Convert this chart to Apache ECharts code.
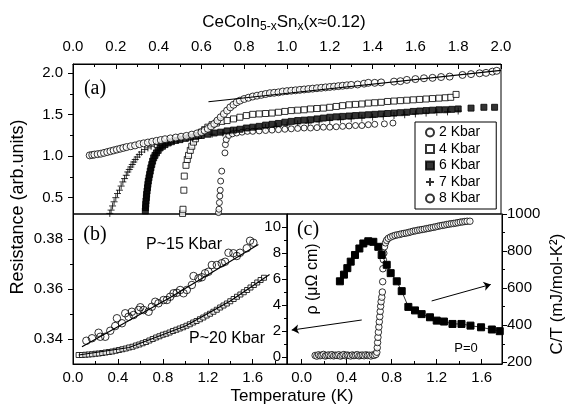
<!DOCTYPE html>
<html>
<head>
<meta charset="utf-8">
<script src="https://cdn.jsdelivr.net/npm/echarts@6/dist/echarts.min.js"></script>
<style>
  html, body { margin: 0; padding: 0; background: #fff; }
  #chart { width: 568px; height: 408px; }
</style>
</head>
<body>
<div id="chart"></div>
<script>
// ---- panel (a): resistance vs temperature, CeCoIn5-xSnx at several pressures ----
var r2kbar = [[0.680,0.32],[0.682,0.36],[0.684,0.44],[0.686,0.52],[0.688,0.59],[0.690,0.70],[0.695,0.82],
  [0.710,1.04],[0.712,1.14],[0.716,1.20],[0.728,1.25],[0.745,1.27],[0.765,1.28],[0.790,1.29],[0.815,1.30],
  [0.840,1.30],[0.870,1.305],[0.900,1.31],[0.930,1.315],[0.960,1.32],[0.990,1.325],[1.020,1.33],[1.050,1.335],
  [1.080,1.34],[1.110,1.34],[1.140,1.345],[1.170,1.35],[1.200,1.35],[1.230,1.355],[1.260,1.36],[1.290,1.365],
  [1.320,1.37],[1.350,1.37],[1.380,1.38],[1.410,1.385],[1.455,1.39],[1.495,1.40]];

var r4kbar = [[0.512,0.31],[0.514,0.36],[0.518,0.59],[0.520,0.76],[0.528,0.89],[0.534,0.96],[0.540,1.01],
  [0.548,1.07],[0.555,1.12],[0.563,1.17],[0.572,1.21],[0.585,1.25],[0.600,1.29],[0.615,1.32],[0.630,1.35],
  [0.650,1.38],[0.670,1.40],[0.695,1.42],[0.720,1.43],[0.750,1.45],[0.780,1.47],[0.810,1.49],[0.840,1.505],
  [0.870,1.51],[0.900,1.515],[0.930,1.52],[0.960,1.53],[0.990,1.54],[1.020,1.55],[1.050,1.555],[1.080,1.56],
  [1.110,1.57],[1.140,1.575],[1.170,1.58],[1.200,1.59],[1.230,1.60],[1.260,1.61],[1.290,1.62],[1.320,1.625],
  [1.350,1.63],[1.380,1.64],[1.410,1.645],[1.440,1.65],[1.470,1.66],[1.500,1.665],[1.530,1.67],[1.560,1.675],
  [1.590,1.68],[1.620,1.685],[1.650,1.69],[1.680,1.695],[1.710,1.70],[1.740,1.705],[1.765,1.71],[1.790,1.745]];

var r6kbar = [[0.336,0.30],[0.338,0.34],[0.339,0.38],[0.340,0.42],[0.341,0.46],[0.343,0.50],[0.344,0.54],
  [0.346,0.58],[0.348,0.62],[0.350,0.66],[0.352,0.70],[0.355,0.74],[0.358,0.78],[0.361,0.82],[0.364,0.86],
  [0.368,0.90],[0.372,0.94],[0.377,0.98],[0.383,1.01],[0.390,1.04],[0.398,1.07],[0.407,1.10],[0.418,1.12],
  [0.430,1.14],[0.445,1.16],[0.460,1.175],[0.480,1.19],[0.500,1.20],[0.525,1.215],[0.550,1.23],[0.575,1.24],
  [0.600,1.25],[0.630,1.265],[0.660,1.28],[0.690,1.29],[0.720,1.305],[0.750,1.315],[0.780,1.325],[0.810,1.34],
  [0.840,1.35],[0.870,1.36],[0.900,1.375],[0.930,1.385],[0.960,1.395],[0.990,1.41],[1.020,1.42],[1.050,1.43],
  [1.080,1.435],[1.110,1.44],[1.140,1.45],[1.170,1.46],[1.200,1.47],[1.230,1.475],[1.260,1.48],[1.290,1.485],
  [1.320,1.49],[1.350,1.495],[1.380,1.50],[1.410,1.505],[1.440,1.51],[1.470,1.515],[1.500,1.52],[1.530,1.525],
  [1.560,1.53],[1.590,1.54],[1.620,1.545],[1.650,1.55],[1.680,1.555],[1.710,1.56],[1.740,1.56],[1.770,1.565],
  [1.800,1.57],[1.860,1.58],[1.920,1.59],[1.970,1.59]];

var r7kbar = [[0.172,0.31],[0.178,0.35],[0.185,0.40],[0.192,0.45],[0.200,0.50],[0.208,0.55],[0.217,0.59],
  [0.225,0.64],[0.233,0.69],[0.241,0.73],[0.249,0.77],[0.256,0.81],[0.263,0.84],[0.270,0.87],[0.277,0.90],
  [0.284,0.93],[0.291,0.96],[0.300,0.99],[0.310,1.02],[0.320,1.05],[0.335,1.08],[0.350,1.10],[0.365,1.12],
  [0.380,1.14],[0.400,1.16],[0.420,1.175],[0.445,1.19],[0.470,1.20],[0.500,1.215],[0.530,1.225],[0.560,1.235],
  [0.600,1.25],[0.650,1.265],[0.700,1.28],[0.750,1.30],[0.800,1.315],[0.850,1.33],[0.900,1.345],[0.950,1.36],
  [1.000,1.375],[1.050,1.39],[1.100,1.40],[1.150,1.415],[1.200,1.43],[1.250,1.44],[1.300,1.45],[1.350,1.46],
  [1.400,1.47],[1.450,1.48],[1.500,1.49],[1.550,1.50],[1.600,1.51],[1.650,1.52],[1.700,1.53],[1.750,1.535],
  [1.800,1.545]];

var r8kbar = [[0.078,1.01],[0.090,1.015],[0.100,1.02],[0.115,1.025],[0.130,1.03],[0.145,1.04],[0.160,1.05],
  [0.175,1.06],[0.190,1.07],[0.205,1.08],[0.220,1.09],[0.235,1.10],[0.250,1.11],[0.270,1.12],[0.290,1.13],
  [0.310,1.145],[0.330,1.155],[0.350,1.165],[0.370,1.175],[0.390,1.185],[0.410,1.195],[0.430,1.205],[0.455,1.215],
  [0.480,1.225],[0.505,1.235],[0.530,1.245],[0.555,1.26],[0.580,1.275],[0.600,1.29],[0.615,1.31],[0.630,1.33],
  [0.645,1.36],[0.660,1.39],[0.675,1.43],[0.690,1.47],[0.705,1.51],[0.720,1.55],[0.735,1.59],[0.750,1.62],
  [0.765,1.65],[0.780,1.67],[0.800,1.69],[0.820,1.705],[0.840,1.72],[0.860,1.73],[0.880,1.74],[0.900,1.75],
  [0.920,1.76],[0.940,1.765],[0.960,1.77],[0.980,1.78],[1.000,1.785],[1.020,1.79],[1.040,1.795],[1.060,1.80],
  [1.080,1.805],[1.100,1.81],[1.120,1.815],[1.140,1.82],[1.160,1.825],[1.180,1.83],[1.200,1.835],[1.220,1.84],
  [1.240,1.845],[1.260,1.85],[1.280,1.855],[1.300,1.86],[1.330,1.865],[1.360,1.875],[1.380,1.885],[1.410,1.885],
  [1.440,1.89],[1.500,1.90],[1.530,1.905],[1.560,1.92],[1.600,1.93],[1.640,1.94],[1.680,1.945],[1.720,1.955],
  [1.760,1.96],[1.820,1.98],[1.860,1.99],[1.900,2.00],[1.930,2.005],[1.960,2.02],[1.980,2.03]];

var fit8kbar = [[0.633,1.657],[2.0,2.035]];

// ---- panel (b): high pressure, normal state ----
var r15kbar = [[0.119,0.3393],[0.169,0.3403],[0.228,0.3425],[0.243,0.3409],[0.287,0.3409],[0.332,0.3433],
  [0.376,0.3452],[0.391,0.3483],[0.436,0.3463],[0.465,0.3503],[0.495,0.3489],[0.524,0.3509],[0.539,0.3496],
  [0.584,0.3516],[0.599,0.3527],[0.628,0.3516],[0.673,0.3509],[0.702,0.3529],[0.732,0.3549],[0.761,0.3543],
  [0.806,0.3556],[0.836,0.3556],[0.865,0.3569],[0.895,0.3583],[0.924,0.3585],[0.954,0.3596],[0.984,0.3583],
  [1.013,0.3596],[1.058,0.3616],[1.073,0.3652],[1.117,0.3643],[1.147,0.3647],[1.176,0.3663],[1.206,0.3669],
  [1.236,0.3696],[1.280,0.3696],[1.324,0.3703],[1.354,0.3709],[1.384,0.3745],[1.428,0.3743],[1.458,0.3732],
  [1.487,0.3745],[1.547,0.3763],[1.576,0.3793],[1.606,0.3785]];

var r20kbar = [[0.05,0.3336],[0.08,0.3336],[0.11,0.3337],[0.14,0.3338],[0.17,0.3339],[0.20,0.3341],[0.23,0.3342],
  [0.26,0.3344],[0.29,0.3346],[0.32,0.3348],[0.35,0.3350],[0.38,0.3353],[0.41,0.3356],[0.44,0.3359],[0.47,0.3362],
  [0.50,0.3366],[0.53,0.3369],[0.56,0.3374],[0.59,0.3378],[0.62,0.3383],[0.65,0.3388],[0.68,0.3394],[0.71,0.3400],
  [0.74,0.3406],[0.77,0.3411],[0.80,0.3417],[0.83,0.3421],[0.86,0.3426],[0.89,0.3432],[0.92,0.3437],[0.95,0.3442],
  [0.98,0.3447],[1.01,0.3453],[1.04,0.3459],[1.07,0.3466],[1.10,0.3472],[1.13,0.3479],[1.16,0.3486],[1.19,0.3494],
  [1.22,0.3501],[1.25,0.3509],[1.28,0.3517],[1.31,0.3526],[1.34,0.3534],[1.37,0.3542],[1.40,0.3551],[1.43,0.3560],
  [1.46,0.3569],[1.49,0.3578],[1.52,0.3587],[1.55,0.3596],[1.58,0.3606],[1.61,0.3616],[1.64,0.3626],[1.67,0.3636],
  [1.70,0.3645]];

var fit15kbar = [[0.08,0.3369],[0.85,0.3562],[1.65,0.3778]];
var fit20kbar = [[0.05,0.3336],[0.5,0.3366],[1.0,0.3452],[1.4,0.3552],[1.75,0.3658]];

// ---- panel (c): P=0, rho and C/T ----
var rhoP0 = [[0.120,0.10],[0.135,0.05],[0.150,0.15],[0.165,0.08],[0.180,0.12],[0.195,0.18],[0.210,0.06],
  [0.225,0.10],[0.240,0.14],[0.255,0.09],[0.270,0.16],[0.285,0.07],[0.300,0.12],[0.315,0.10],[0.330,0.15],
  [0.345,0.05],[0.360,0.11],[0.375,0.17],[0.390,0.08],[0.405,0.13],[0.420,0.10],[0.435,0.06],[0.450,0.14],
  [0.465,0.09],[0.480,0.12],[0.495,0.16],[0.510,0.07],[0.525,0.11],[0.540,0.13],[0.555,0.08],[0.570,0.15],
  [0.585,0.10],[0.600,0.12],[0.615,0.06],[0.630,0.14],[0.645,0.11],[0.660,0.18],
  [0.668,0.35],[0.672,0.70],[0.675,1.10],[0.678,1.50],[0.682,1.90],[0.686,2.30],[0.690,2.70],[0.694,3.10],
  [0.698,3.50],[0.702,3.90],[0.706,4.25],[0.712,4.60],[0.717,5.00],[0.720,5.80],[0.722,6.80],[0.726,7.50],
  [0.730,8.00],[0.736,8.50],[0.745,8.80],[0.755,9.00],[0.770,9.15],[0.790,9.25],[0.810,9.32],[0.830,9.38],
  [0.850,9.42],[0.870,9.45],[0.890,9.50],[0.910,9.53],[0.930,9.56],[0.950,9.60],[0.970,9.65],[0.990,9.70],
  [1.010,9.73],[1.030,9.77],[1.050,9.80],[1.070,9.83],[1.090,9.86],[1.110,9.90],[1.130,9.93],[1.150,9.97],
  [1.170,10.00],[1.190,10.04],[1.210,10.08],[1.230,10.12],[1.250,10.15],[1.270,10.18],[1.290,10.22],
  [1.310,10.25],[1.330,10.28],[1.350,10.30],[1.370,10.33],[1.390,10.36],[1.410,10.40],[1.430,10.42],
  [1.450,10.45],[1.470,10.47],[1.495,10.47]];

var ctP0 = [[0.340,637],[0.376,673],[0.406,708],[0.436,743],[0.474,779],[0.513,814],[0.548,841],[0.592,853],
  [0.637,850],[0.681,823],[0.711,779],[0.756,726],[0.791,681],[0.845,637],[0.889,584],[0.948,499],[1.007,480],
  [1.066,460],[1.140,443],[1.200,425],[1.264,420],[1.340,407],[1.420,407],[1.500,398],[1.594,389],[1.690,377],
  [1.760,368]];

var arrowRho = [[0.534,2.84],[-0.088,2.06]];
var arrowCT = [[1.155,531],[1.68,620]];

// ---- tick values ----
var aTempTicks = [0,0.2,0.4,0.6,0.8,1.0,1.2,1.4,1.6,1.8,2.0];
var aTempMinor = [0.1,0.3,0.5,0.7,0.9,1.1,1.3,1.5,1.7,1.9];
var aResTicks = [0.5,1.0,1.5,2.0];
var aResMinor = [0.75,1.25,1.75];
var bTempTicks = [0,0.4,0.8,1.2,1.6];
var bTempMinor = [0.2,0.6,1.0,1.4,1.8];
var bResTicks = [0.34,0.36,0.38];
var bResMinor = [0.35,0.37];
var cTempTicks = [0,0.4,0.8,1.2,1.6];
var cTempMinor = [0.2,0.6,1.0,1.4];
var cRhoTicks = [0,2,4,6,8,10];
var cRhoMinor = [1,3,5,7,9];
var cCTTicks = [200,400,600,800,1000];
var cCTMinor = [300,500,700,900];

var legendNames = ['2 Kbar','4 Kbar','6 Kbar','7 Kbar','8 Kbar'];

var SANS = '"Liberation Sans", Arial, sans-serif';
var SERIF = '"Liberation Serif", "Times New Roman", serif';
var PLUS = 'path://M5,0L5,10M0,5L10,5';

function axisPair(base, majors, minors, fmt, inside, margin) {
  var major = Object.assign({
    type: 'value',
    axisLine: { show: true, onZero: false, lineStyle: { color: '#000', width: 1 } },
    axisTick: { show: true, inside: inside, length: 5, customValues: majors, lineStyle: { color: '#000', width: 1 } },
    axisLabel: { show: true, customValues: majors, formatter: fmt, color: '#000', fontSize: 15, fontFamily: SANS, margin: margin },
    splitLine: { show: false }
  }, base);
  var minor = Object.assign({
    type: 'value',
    axisLine: { show: false, onZero: false },
    axisTick: { show: true, inside: inside, length: 3, customValues: minors, lineStyle: { color: '#000', width: 1 } },
    axisLabel: { show: false },
    splitLine: { show: false }
  }, base);
  return [major, minor];
}

function f1(v) { return v.toFixed(1); }
function f2(v) { return v.toFixed(2); }
function f0(v) { return String(Math.round(v)); }

var xa = axisPair({ gridIndex: 0, position: 'top', min: 0, max: 2 }, aTempTicks, aTempMinor, f1, true, 10);
var xb = axisPair({ gridIndex: 1, position: 'bottom', min: 0, max: 1.905 }, bTempTicks, bTempMinor, f1, true, 6);
var xc = axisPair({ gridIndex: 2, position: 'bottom', min: -0.13, max: 1.78 }, cTempTicks, cTempMinor, f1, true, 6);
var ya = axisPair({ gridIndex: 0, position: 'left', min: 0.303, max: 2.112 }, aResTicks, aResMinor, f1, false, 10);
var yb = axisPair({ gridIndex: 1, position: 'left', min: 0.33, max: 0.39 }, bResTicks, bResMinor, f2, false, 10);
var yc = axisPair({ gridIndex: 2, position: 'left', min: -0.56, max: 11.03 }, cRhoTicks, cRhoMinor, f0, false, 6);
var yc2 = axisPair({ gridIndex: 2, position: 'right', min: 191, max: 1000 }, cCTTicks, cCTMinor, f0, false, 5);

function scatter(name, data, xi, yi, symbol, size, fill) {
  return {
    name: name, type: 'scatter', xAxisIndex: xi, yAxisIndex: yi, data: data,
    symbol: symbol, symbolSize: size,
    itemStyle: { color: fill, borderColor: '#000', borderWidth: 1 },
    emphasis: { disabled: true }, silent: true
  };
}

function fitLine(data, xi, yi) {
  return {
    type: 'line', xAxisIndex: xi, yAxisIndex: yi, data: data, showSymbol: false, symbol: 'none',
    lineStyle: { color: '#000', width: 1.2 }, emphasis: { disabled: true }, silent: true, z: 5
  };
}

var chart = echarts.init(document.getElementById('chart'), null, { renderer: 'canvas' });
chart.setOption({
  animation: false,
  backgroundColor: '#fff',
  title: {
    left: 'center', top: 6,
    text: '{m|CeCoIn}{s|5-x}{m|Sn}{s|x}{m|(x\u22480.12)}',
    textStyle: {
      fontWeight: 'normal',
      rich: {
        m: { fontSize: 17, fontFamily: SANS, fontWeight: 'normal', color: '#000' },
        s: { fontSize: 12, fontFamily: SANS, fontWeight: 'normal', color: '#000', padding: [10, 0, 0, 0] }
      }
    }
  },
  legend: {
    data: legendNames,
    orient: 'vertical', left: 415, top: 122,
    itemWidth: 8, itemHeight: 8, itemGap: 1.5,
    padding: [3, 16, 3, 10],
    borderColor: '#000', borderWidth: 1, backgroundColor: '#fff',
    textStyle: { fontSize: 14, fontFamily: SANS, color: '#000', lineHeight: 15 },
    selectedMode: false
  },
  grid: [
    { left: 73, top: 64, width: 428, height: 150, show: true, borderColor: '#000', borderWidth: 1 },
    { left: 73, top: 214, width: 214, height: 150, show: true, borderColor: '#000', borderWidth: 1 },
    { left: 287, top: 214, width: 215, height: 150, show: true, borderColor: '#000', borderWidth: 1 }
  ],
  xAxis: [xa[0], xa[1], xb[0], xb[1], xc[0], xc[1]],
  yAxis: [ya[0], ya[1], yb[0], yb[1], yc[0], yc[1], yc2[0], yc2[1]],
  series: [
    scatter('7 Kbar', r7kbar, 0, 0, PLUS, 7, 'rgba(0,0,0,0)'),
    scatter('2 Kbar', r2kbar, 0, 0, 'circle', 6, '#fff'),
    scatter('4 Kbar', r4kbar, 0, 0, 'rect', 6, '#fff'),
    scatter('6 Kbar', r6kbar, 0, 0, 'rect', 6, '#000'),
    scatter('8 Kbar', r8kbar, 0, 0, 'circle', 7, '#fff'),
    fitLine(fit8kbar, 0, 0),
    scatter('P~15 Kbar', r15kbar, 2, 2, 'circle', 7.5, 'rgba(255,255,255,0)'),
    scatter('P~20 Kbar', r20kbar, 2, 2, 'rect', 5, '#fff'),
    fitLine(fit15kbar, 2, 2),
    fitLine(fit20kbar, 2, 2),
    {
      name: 'C/T', type: 'line', xAxisIndex: 4, yAxisIndex: 6, data: ctP0,
      symbol: 'rect', symbolSize: 7, showAllSymbol: true,
      lineStyle: { color: '#000', width: 0.8 },
      itemStyle: { color: '#000', borderColor: '#000' },
      emphasis: { disabled: true }, silent: true,
      markLine: {
        silent: true, symbol: ['none', 'arrow'], symbolSize: 7,
        label: { show: false },
        lineStyle: { color: '#000', width: 1, type: 'solid' },
        data: [[{ coord: arrowCT[0] }, { coord: arrowCT[1] }]]
      }
    },
    Object.assign(scatter('rho', rhoP0, 4, 4, 'circle', 6.5, '#fff'), {
      markLine: {
        silent: true, symbol: ['none', 'arrow'], symbolSize: 7,
        label: { show: false },
        lineStyle: { color: '#000', width: 1, type: 'solid' },
        data: [[{ coord: arrowRho[0] }, { coord: arrowRho[1] }]]
      }
    })
  ],
  graphic: [
    { type: 'text', x: 18, y: 207, rotation: Math.PI / 2,
      style: { text: 'Resistance (arb.units)', font: '18px ' + SANS, fill: '#000', align: 'center', verticalAlign: 'middle' } },
    { type: 'text', x: 292, y: 396,
      style: { text: 'Temperature (K)', font: '17px ' + SANS, fill: '#000', align: 'center', verticalAlign: 'middle' } },
    { type: 'text', x: 557, y: 294, rotation: Math.PI / 2,
      style: { text: 'C/T (mJ/mol-K\u00b2)', font: '17px ' + SANS, fill: '#000', align: 'center', verticalAlign: 'middle' } },
    { type: 'text', x: 313, y: 279, rotation: Math.PI / 2,
      style: { text: '\u03c1 (\u03bc\u03a9 cm)', font: '16px ' + SANS, fill: '#000', align: 'center', verticalAlign: 'middle' } },
    { type: 'text', x: 95, y: 89,
      style: { text: '(a)', font: '20px ' + SERIF, fill: '#000', align: 'center', verticalAlign: 'middle' } },
    { type: 'text', x: 95, y: 235,
      style: { text: '(b)', font: '20px ' + SERIF, fill: '#000', align: 'center', verticalAlign: 'middle' } },
    { type: 'text', x: 308, y: 230,
      style: { text: '(c)', font: '20px ' + SERIF, fill: '#000', align: 'center', verticalAlign: 'middle' } },
    { type: 'text', x: 184, y: 245,
      style: { text: 'P~15 Kbar', font: '16px ' + SANS, fill: '#000', align: 'center', verticalAlign: 'middle' } },
    { type: 'text', x: 227, y: 339,
      style: { text: 'P~20 Kbar', font: '16px ' + SANS, fill: '#000', align: 'center', verticalAlign: 'middle' } },
    { type: 'text', x: 466, y: 348,
      style: { text: 'P=0', font: '13px ' + SANS, fill: '#000', align: 'center', verticalAlign: 'middle' } }
  ]
});
</script>
</body>
</html>
